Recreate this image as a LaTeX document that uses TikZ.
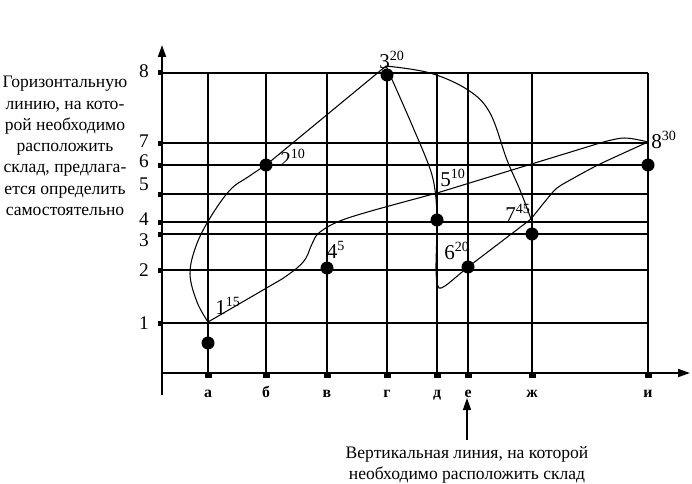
\documentclass[tikz,border=0pt]{standalone}
\usepackage{fontspec}
\setmainfont{Liberation Serif}
\usetikzlibrary{arrows.meta}

\begin{document}
\begin{tikzpicture}[x=0.02cm,y=-0.02cm,>={Triangle[length=2.4mm,width=1.6mm]}]
\tikzset{
  gridline/.style={line width=0.8pt},
  route/.style={line width=0.6pt},
  ptlabel/.style={font=\fontsize{12}{14}\selectfont,inner sep=0pt},
  xlab/.style={font=\small\bfseries,anchor=base},
  ylab/.style={font=\fontsize{11}{13}\selectfont}
}
\useasboundingbox (0,0) rectangle (692,483);

% Grid: vertical lines with their letters, horizontal lines with their numbers.
\foreach \x/\lab in {208/а,266/б,327/в,387/г,437/д,468/е,532/ж,648/и}{
  \draw[gridline] (\x,373) -- (\x,73);
  \fill (\x-3.5,373) rectangle (\x+3.5,378);
  \node[xlab] (xl-\x) at (\x,397) {\lab};
}
\foreach \y/\lab/\ly in {73/8/71,143/7/141,165/6/161,194/5/184,222/4/219,234/3/240,270/2/270,323/1/323}{
  \draw[gridline] (162,\y) -- (648,\y);
  \fill (158,\y-2.5) rectangle (162,\y+2.5);
  \node[ylab] (yl-\lab) at (144,\ly) {\lab};
}

% Axes.
\draw[->,line width=1pt] (162,395) -- (162,45);
\draw[->,line width=1pt] (162,373) -- (690,373);

% Numbered points of the route.
\coordinate (n1) at (208,322);
\coordinate (n2) at (266,165);
\coordinate (n3) at (386,66);
\coordinate (n5) at (437,193);
\coordinate (n6) at (468,267);
\coordinate (n7) at (531,219);
\coordinate (n8) at (648,142);

% Routes between the points.
\draw[route] plot[smooth,tension=0.6] coordinates {(n1) (197,302) (190,274) (196,246) (210,218) (230,190) (248,177) (n2)} -- (n3);
\draw[route] plot[smooth,tension=0.5] coordinates {(n3) (412,125) (432,175) (437,215) (436,270) (439,288) (449,283)} -- (n6) -- (n7);
\draw[route] plot[smooth,tension=0.5] coordinates {(n7) (547,199) (557,188) (572,179) (600,164) (n8)};
\draw[route] plot[smooth,tension=0.6] coordinates {(n8) (624,138) (600,143)} -- (n5) -- (400,203);
\draw[route] plot[smooth,tension=0.6] coordinates {(400,203) (345,219) (320,232) (312,244) (306,258) (297,268) (282,279)} -- (n1);
\draw[route] plot[smooth,tension=0.6] coordinates {(n3) (430,73) (468,90) (490,113) (507,160) (520,190) (n7)};

% Dots.
\foreach \px/\py in {208/343,266/165,387/75,437/220,327/268,468/267,532/234,648/165}
  \fill (\px,\py) circle (6.5);

\node[ptlabel] (l1) at (228,306) {1\textsuperscript{15}};
\node[ptlabel] (l2) at (293,158) {2\textsuperscript{10}};
\node[ptlabel] (l3) at (392,60) {3\textsuperscript{20}};
\node[ptlabel] (l4) at (336,250) {4\textsuperscript{5}};
\node[ptlabel] (l5) at (453,178) {5\textsuperscript{10}};
\node[ptlabel] (l6) at (457,251) {6\textsuperscript{20}};
\node[ptlabel] (l7) at (518,213) {7\textsuperscript{45}};
\node[ptlabel] (l8) at (664,140) {8\textsuperscript{30}};

% Notes.
\node[align=center,font=\fontsize{10}{12.1}\selectfont] (hnote) at (65,146)
  {Горизонтальную\\линию, на кото-\\рой необходимо\\расположить\\склад, предлага-\\ется определить\\самостоятельно};
\node[align=center,font=\fontsize{10}{12}\selectfont,anchor=north] (vnote) at (467,440)
  {Вертикальная линия, на которой\\необходимо расположить склад};
\coordinate (vtip) at (467,398);
\draw[->,line width=0.8pt] (vnote.north) -- (vtip);
\end{tikzpicture}
\end{document}
